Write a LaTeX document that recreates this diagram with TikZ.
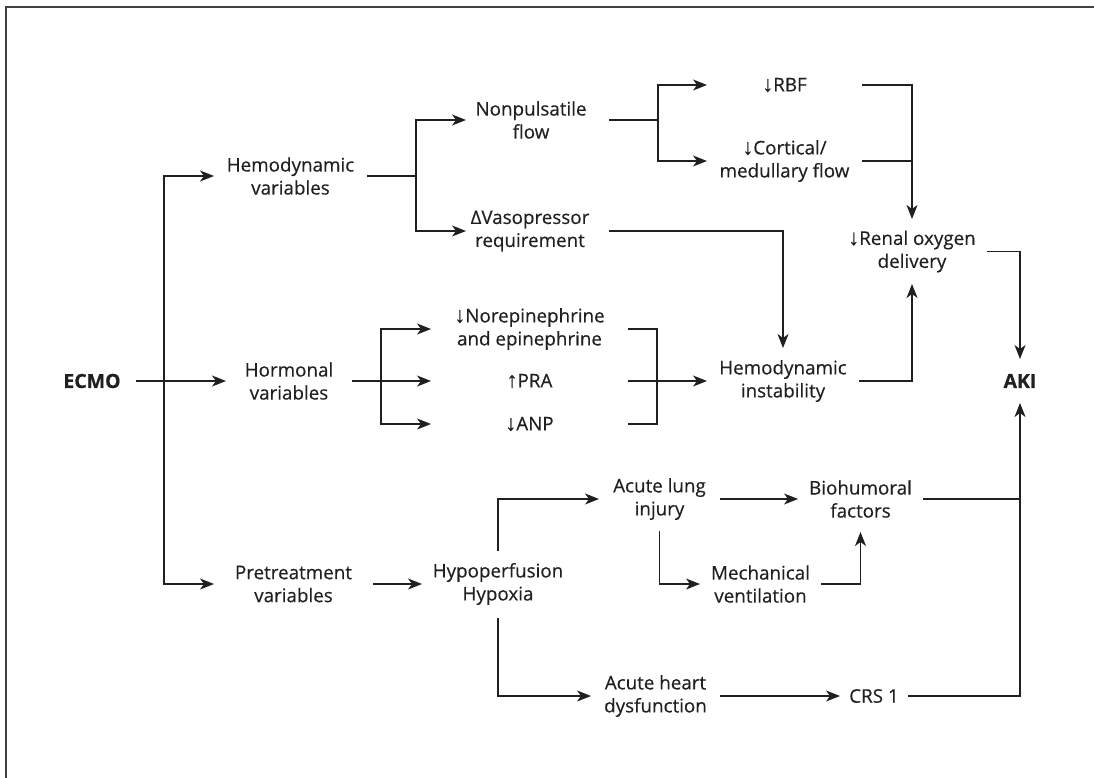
\documentclass[tikz,border=0pt]{standalone}
\usepackage{fontspec}
\setmainfont[FakeBold=0.35]{Open Sans}
\newfontfamily\symf[FakeBold=0.35]{Liberation Sans}
\newfontfamily\boldf[FakeBold=0.5]{Open Sans}
\usetikzlibrary{arrows.meta}
\newcommand\dnar{{\symf\fontsize{22}{23}\selectfont ↓}}
\newcommand\upar{{\symf\fontsize{22}{23}\selectfont ↑}}
\definecolor{ink}{HTML}{231F20}
\begin{document}
\begin{tikzpicture}[x=1pt,y=-1pt,
  lab/.style={inner sep=0pt,outer sep=0pt,align=center,text=ink,font=\fontsize{18.8}{23}\selectfont},
  bold/.style={lab,font=\fontsize{19.5}{23}\selectfont\boldf\bfseries},
  conn/.style={draw=ink,line width=1.2pt},
  arr/.style={conn,-{Stealth[length=14pt,width=11pt,inset=4pt]}}]
\useasboundingbox (0,0) rectangle (1094,778);
\draw[line width=1.5pt,draw=black!75] (6,778) -- (6,7) -- (1094,7);

% nodes
\node[bold,minimum width=88pt] (ecmo) at (92,381) {ECMO};
\node[lab,minimum width=153pt] (hemvar) at (290.5,176) {Hemodynamic\\variables};
\node[lab,minimum width=126pt] (horm) at (289,381) {Hormonal\\variables};
\node[lab,minimum width=159pt] (pretr) at (293.5,584) {Pretreatment\\variables};
\node[lab,minimum width=130pt] (nonp) at (531,120) {Nonpulsatile\\flow};
\node[lab,minimum width=128pt] (vaso) at (530,231) {ΔVasopressor\\requirement};
\node[lab,minimum width=155pt] (rbf) at (784.5,85) {\dnar RBF};
\node[lab,minimum width=155pt] (cort) at (784.5,161) {\dnar Cortical/\\medullary flow};
\node[lab,minimum width=150pt,minimum height=65pt] (renal) at (912,251.5) {\dnar Renal oxygen\\delivery};
\node[lab,minimum width=152pt,minimum height=66pt] (hinst) at (783,381) {Hemodynamic\\instability};
\node[bold,minimum height=44pt] (aki) at (1020,381) {AKI};
\node[lab,minimum width=197pt] (nore) at (529.5,329) {\dnar Norepinephrine\\and epinephrine};
\node[lab,minimum width=197pt] (pra) at (529.5,381) {\upar PRA};
\node[lab,minimum width=197pt] (anp) at (529.5,424) {\dnar ANP};
\node[lab,minimum width=152pt,minimum height=67pt] (hypo) at (498,584) {Hypoperfusion\\Hypoxia};
\node[lab,minimum width=121pt,minimum height=64pt] (lung) at (659.5,499) {Acute lung\\injury};
\node[lab,minimum width=129pt] (heart) at (655.5,696) {Acute heart\\dysfunction};
\node[lab,minimum width=125pt,minimum height=66pt] (bio) at (860.5,499) {Biohumoral\\factors};
\node[lab,minimum width=121pt] (mech) at (760.5,584) {Mechanical\\ventilation};
\node[lab,minimum width=68pt] (crs) at (874,696) {CRS 1};

% branch points
\coordinate (b1) at (164,381);
\coordinate (b2) at (416,176);
\coordinate (b3) at (658,120);
\coordinate (b5) at (381,381);
\coordinate (b6) at (657,381);

% connectors
\draw[arr] (ecmo) -- (horm);
\draw[arr] (b1) |- (hemvar.west);
\draw[arr] (b1) |- (pretr.west);
\draw[conn] (hemvar.east) -- (b2);
\draw[arr] (b2) |- (nonp.west);
\draw[arr] (b2) |- (vaso.west);
\draw[conn] ([xshift=13pt]nonp.east) -- (b3);
\draw[arr] (b3) |- (rbf.west);
\draw[arr] (b3) |- (cort.west);
\draw[arr] (rbf.east) -| (renal.north);
\draw[conn] (cort.east) -- (cort.east -| renal.north);
\draw[arr] ([xshift=15pt]vaso.east) -| (hinst.north);
\draw[arr] (hinst.east) -| (renal.south);
\draw[arr] (renal.east) -| (aki.north);
\draw[arr] (horm.east) -- (pra.west);
\draw[arr] (b5) |- (nore.west);
\draw[arr] (b5) |- (anp.west);
\draw[conn] (nore.east) -| (b6) |- (anp.east);
\draw[arr] (pra.east) -- (hinst.west);
\draw[arr] (pretr.east) -- (hypo.west);
\draw[arr] (hypo.north) |- (lung.west);
\draw[arr] (hypo.south) |- (heart.west);
\draw[arr] (lung.east) -- (bio.west);
\draw[arr] (lung.south) |- (mech.west);
\draw[arr] (mech.east) -| (bio.south);
\draw[arr] (heart.east) -- (crs.west);
\draw[conn] (bio.east) -- (bio.east -| aki.south);
\draw[arr] (crs.east) -| (aki.south);
\end{tikzpicture}
\end{document}
